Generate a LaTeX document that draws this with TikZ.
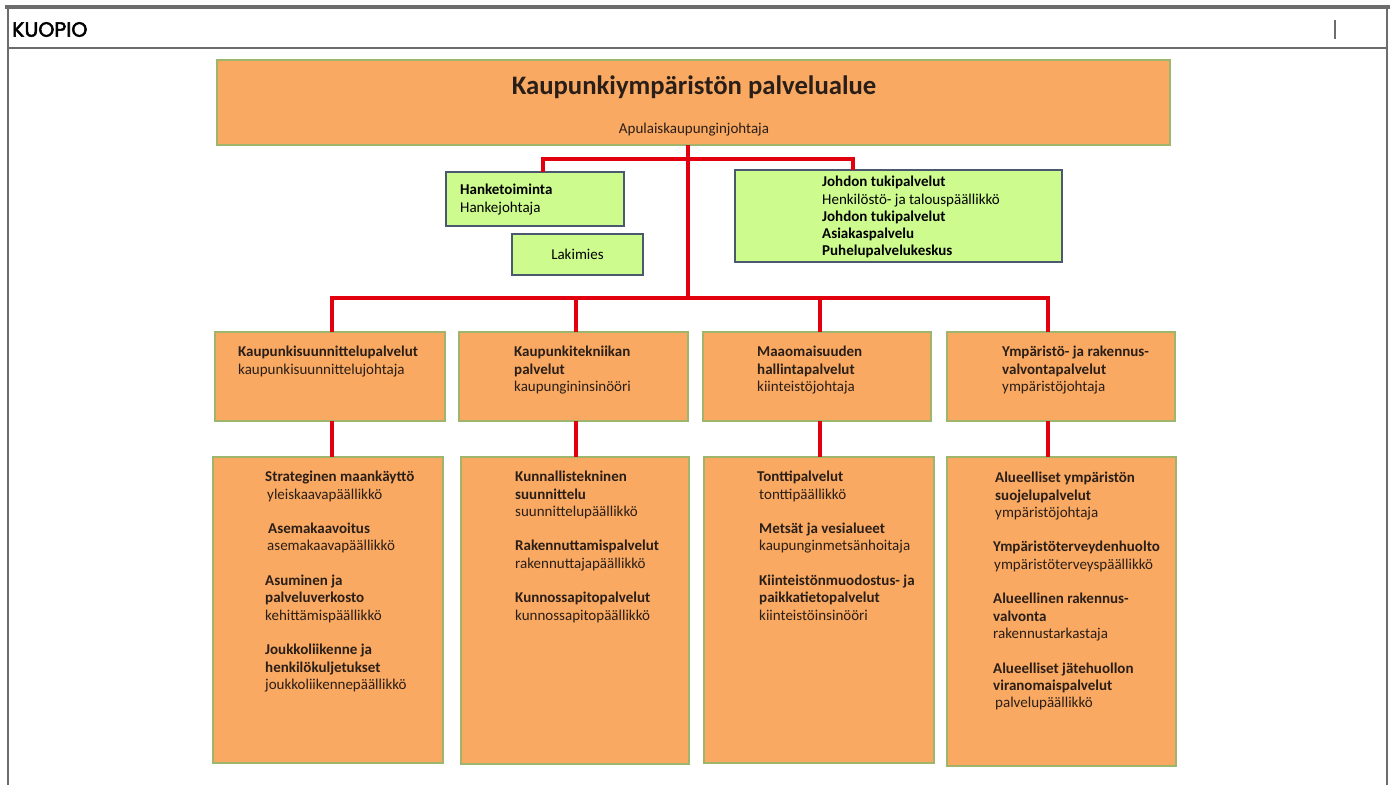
\documentclass[tikz,border=0pt]{standalone}
\usepackage{fontspec}
\setmainfont{Carlito}
\newfontfamily\kuopiofont[FakeBold=2.5]{Poppins}
\definecolor{orangefill}{HTML}{F9A961}
\definecolor{oborder}{HTML}{9FB56C}
\definecolor{greenfill}{HTML}{CDFB8E}
\definecolor{gborder}{HTML}{4A5870}
\definecolor{redc}{HTML}{E2000F}
\definecolor{frameg}{HTML}{6C6C6C}
\definecolor{textc}{HTML}{2A1E18}
\tikzset{
  obox/.style={draw=oborder, fill=orangefill, line width=1.6pt, inner sep=0pt, outer sep=0pt},
  gbox/.style={draw=gborder, fill=greenfill, line width=1.6pt, inner sep=0pt, outer sep=0pt},
  redline/.style={draw=redc, line width=3.6pt},
  txt/.style={font=\fontsize{15}{17.3}\selectfont, align=left, anchor=north west, inner sep=0pt, text=textc},
  gtxt/.style={txt, text=black},
  framebar/.style={draw=frameg, line width=2.2pt},
}
\newcommand{\fl}{\rule{0pt}{14pt}}
\newcommand{\gap}{\\[17.3pt]}
\begin{document}
\begin{tikzpicture}[x=1pt, y=-1pt]
\useasboundingbox (0,0) rectangle (1396,785);
% frame
\draw[draw=frameg, line width=4pt] (5,7) -- (1390,7);
\draw[framebar] (8,7) -- (8,785);
\draw[framebar] (1387,7) -- (1387,785);
\draw[draw=frameg, line width=1.4pt] (8,48) -- (1387,48);
\node[font=\kuopiofont\fontsize{20.5}{24}\selectfont, anchor=west, inner sep=0pt, text=black] (kuopio) at (12,29.5) {KUOPIO};
\coordinate (bartop) at (1335,20);
\coordinate (barbot) at (1335,39);
\draw[draw=frameg, line width=1.5pt] (bartop) -- (barbot);

% junction coordinates
\coordinate (t1) at (688,159);
\coordinate (t2) at (688,298);
\coordinate (hl) at (543,159);
\coordinate (jr) at (853,159);
\coordinate (c1) at (332,298);
\coordinate (c2) at (576,298);
\coordinate (c3) at (820,298);
\coordinate (c4) at (1048,298);

% boxes
\node[obox, minimum width=953pt, minimum height=85pt] (top) at (693.5,102.5) {};
\node[gbox, minimum width=178pt, minimum height=54pt] (hanke) at (535,199) {};
\node[gbox, minimum width=131pt, minimum height=41pt] (laki) at (577.5,254.5) {};
\node[gbox, minimum width=327pt, minimum height=92pt] (johdon) at (898.5,216) {};
\node[obox, minimum width=230pt, minimum height=89pt] (mid1) at (330,376.5) {};
\node[obox, minimum width=229pt, minimum height=89pt] (mid2) at (573.5,376.5) {};
\node[obox, minimum width=228pt, minimum height=89pt] (mid3) at (817,376.5) {};
\node[obox, minimum width=228pt, minimum height=89pt] (mid4) at (1061,376.5) {};
\node[obox, minimum width=230pt, minimum height=306pt] (bot1) at (328,610) {};
\node[obox, minimum width=228pt, minimum height=307pt] (bot2) at (575,610.5) {};
\node[obox, minimum width=230pt, minimum height=306pt] (bot3) at (819,610) {};
\node[obox, minimum width=229pt, minimum height=309pt] (bot4) at (1061.5,611.5) {};

% connectors
\draw[redline] (top.south -| t1) -- (t2);
\draw[redline] (hl |- hanke.north) -- (hl) -- (jr) -- (jr |- johdon.north);
\draw[redline] (c1 |- mid1.north) -- (c1) -- (c4) -- (c4 |- mid4.north);
\draw[redline] (c2) -- (c2 |- mid2.north);
\draw[redline] (c3) -- (c3 |- mid3.north);
\draw[redline] (c1 |- mid1.south) -- (c1 |- bot1.north);
\draw[redline] (c2 |- mid2.south) -- (c2 |- bot2.north);
\draw[redline] (c3 |- mid3.south) -- (c3 |- bot3.north);
\draw[redline] (c4 |- mid4.south) -- (c4 |- bot4.north);

% texts
\node[font=\bfseries\fontsize{26.7}{30}\selectfont, text=textc, inner sep=0pt] (title) at (694,87) {Kaupunkiympäristön palvelualue};
\node[font=\fontsize{15}{17.3}\selectfont, text=textc, inner sep=0pt] (sub) at (694,130) {Apulaiskaupunginjohtaja};

\node[gtxt] (hanketxt) at (460,180.5) {\fl\textbf{Hanketoiminta}\\Hankejohtaja};
\node[font=\fontsize{15}{17.3}\selectfont, text=black, inner sep=0pt] (lakitxt) at (laki.center) {Lakimies};
\node[gtxt] (johdontxt) at (822,172.5) {\fl\textbf{Johdon tukipalvelut}\\Henkilöstö- ja talouspäällikkö\\\textbf{Johdon tukipalvelut}\\\textbf{Asiakaspalvelu}\\\textbf{Puhelupalvelukeskus}};

\node[txt] (m1txt) at (238,342.5) {\fl\textbf{Kaupunkisuunnittelupalvelut}\\kaupunkisuunnittelujohtaja};
\node[txt] (m2txt) at (514,342.5) {\fl\textbf{Kaupunkitekniikan}\\\textbf{palvelut}\\kaupungininsinööri};
\node[txt] (m3txt) at (757,342.5) {\fl\textbf{Maaomaisuuden}\\\textbf{hallintapalvelut}\\kiinteistöjohtaja};
\node[txt] (m4txt) at (1002,342.5) {\fl\textbf{Ympäristö- ja rakennus-}\\\textbf{valvontapalvelut}\\ympäristöjohtaja};

\node[txt] (b1txt) at (265,467.5) {\fl\textbf{Strateginen maankäyttö}\\\hspace{2pt}yleiskaavapäällikkö\gap
\hspace{3pt}\textbf{Asemakaavoitus}\\\hspace{2pt}asemakaavapäällikkö\gap
\textbf{Asuminen ja}\\\textbf{palveluverkosto}\\kehittämispäällikkö\gap
\textbf{Joukkoliikenne ja}\\\textbf{henkilökuljetukset}\\joukkoliikennepäällikkö};
\node[txt] (b2txt) at (515,467.5) {\fl\textbf{Kunnallistekninen}\\\textbf{suunnittelu}\\suunnittelupäällikkö\gap
\textbf{Rakennuttamispalvelut}\\rakennuttajapäällikkö\gap
\textbf{Kunnossapitopalvelut}\\kunnossapitopäällikkö};
\node[txt] (b3txt) at (757,467.5) {\fl\textbf{Tonttipalvelut}\\\hspace{2pt}tonttipäällikkö\gap
\hspace{2pt}\textbf{Metsät ja vesialueet}\\\hspace{2pt}kaupunginmetsänhoitaja\gap
\hspace{2pt}\textbf{Kiinteistönmuodostus- ja}\\\hspace{2pt}\textbf{paikkatietopalvelut}\\\hspace{2pt}kiinteistöinsinööri};
\node[txt] (b4txt) at (993,468.5) {\fl\hspace{2pt}\textbf{Alueelliset ympäristön}\\\hspace{2pt}\textbf{suojelupalvelut}\\\hspace{2pt}ympäristöjohtaja\gap
\textbf{Ympäristöterveydenhuolto}\\\hspace{1pt}ympäristöterveyspäällikkö\gap
\textbf{Alueellinen rakennus-}\\\textbf{valvonta}\\rakennustarkastaja\gap
\textbf{Alueelliset jätehuollon}\\\textbf{viranomaispalvelut}\\\hspace{2pt}palvelupäällikkö};
\end{tikzpicture}
\end{document}
